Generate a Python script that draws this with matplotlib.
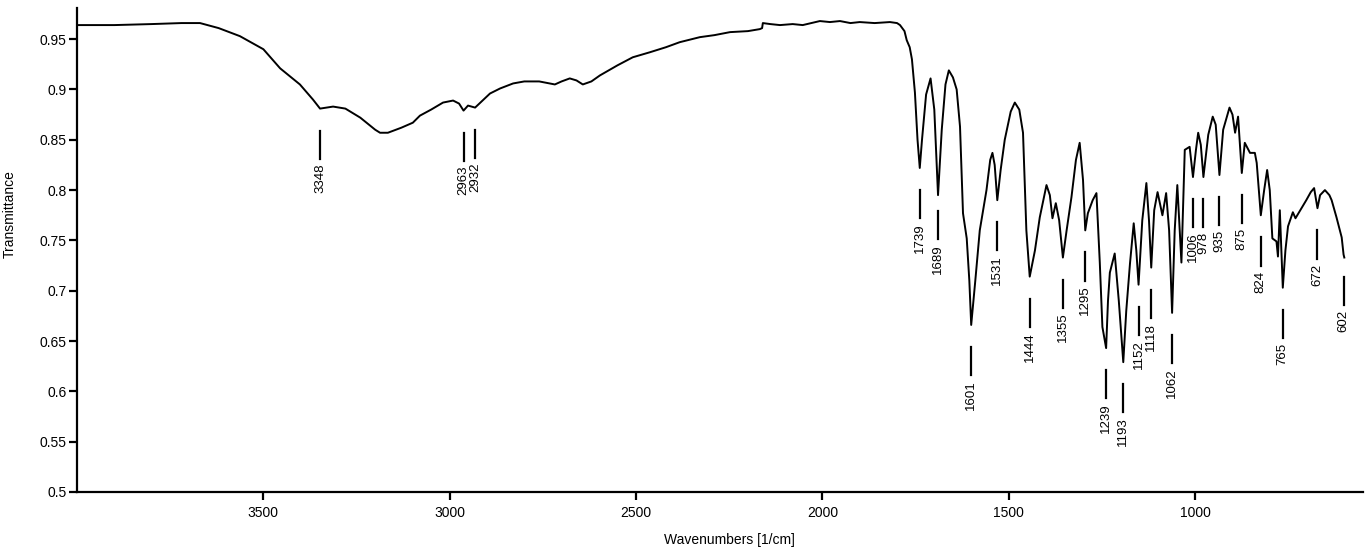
import numpy as np
import matplotlib
matplotlib.use("Agg")
import matplotlib.pyplot as plt
from matplotlib.ticker import FuncFormatter

plt.rcParams['font.family'] = ['Liberation Sans', 'DejaVu Sans']

## SPECTRUM DATA
wavenumber = [4000, 3900, 3800, 3720, 3670, 3620, 3563, 3500, 3455, 3402, 3367, 3348,
              3330, 3313, 3280, 3240, 3200, 3187, 3166, 3130, 3099, 3080, 3050, 3018,
              2991, 2975, 2963, 2951, 2932, 2915, 2892, 2865, 2830, 2800, 2760, 2718,
              2700, 2678, 2660, 2643, 2620, 2597, 2550, 2509, 2463, 2420, 2383, 2329,
              2290, 2248, 2200, 2168, 2162, 2160, 2140, 2114, 2080, 2053, 2030, 2007,
              1980, 1953, 1925, 1900, 1860, 1819, 1800, 1792, 1780, 1774, 1766, 1760,
              1752, 1745, 1739, 1733, 1722, 1710, 1700, 1690, 1680, 1670, 1661, 1650,
              1640, 1631, 1623, 1613, 1606, 1601, 1590, 1578, 1560, 1550, 1544, 1538,
              1531, 1522, 1511, 1495, 1484, 1472, 1462, 1453, 1444, 1430, 1417, 1399,
              1390, 1383, 1374, 1365, 1355, 1345, 1332, 1320, 1310, 1301, 1295, 1288,
              1275, 1265, 1256, 1249, 1239, 1234, 1229, 1216, 1205, 1193, 1185, 1175,
              1165, 1158, 1152, 1142, 1131, 1124, 1118, 1110, 1101, 1088, 1078, 1070,
              1062, 1055, 1048, 1037, 1028, 1015, 1006, 998, 992, 985, 978, 965,
              953, 945, 935, 925, 908, 900, 893, 885, 875, 867, 853, 840,
              835, 824, 815, 807, 800, 793, 782, 778, 773, 765, 758, 751,
              738, 731, 715, 702, 690, 681, 672, 665, 652, 640, 634, 621,
              607, 602, 600]
transmittance = [0.964, 0.964, 0.965, 0.966, 0.966, 0.961, 0.953, 0.940, 0.921, 0.905, 0.890, 0.881,
                 0.882, 0.883, 0.881, 0.872, 0.860, 0.857, 0.857, 0.862, 0.867, 0.874, 0.880, 0.887,
                 0.889, 0.886, 0.879, 0.884, 0.882, 0.888, 0.896, 0.901, 0.906, 0.908, 0.908, 0.905,
                 0.908, 0.911, 0.909, 0.905, 0.908, 0.914, 0.924, 0.932, 0.937, 0.942, 0.947, 0.952,
                 0.954, 0.957, 0.958, 0.960, 0.961, 0.966, 0.965, 0.964, 0.965, 0.964, 0.966, 0.968,
                 0.967, 0.968, 0.966, 0.967, 0.966, 0.967, 0.966, 0.964, 0.958, 0.949, 0.942, 0.930,
                 0.897, 0.850, 0.822, 0.850, 0.895, 0.911, 0.880, 0.795, 0.860, 0.905, 0.919, 0.912,
                 0.900, 0.863, 0.777, 0.752, 0.710, 0.666, 0.710, 0.760, 0.800, 0.830, 0.837, 0.825,
                 0.790, 0.820, 0.850, 0.878, 0.887, 0.880, 0.857, 0.760, 0.714, 0.740, 0.773, 0.805,
                 0.795, 0.772, 0.787, 0.770, 0.733, 0.760, 0.793, 0.830, 0.847, 0.810, 0.760, 0.777,
                 0.790, 0.797, 0.728, 0.664, 0.643, 0.690, 0.718, 0.737, 0.690, 0.629, 0.680, 0.727,
                 0.767, 0.740, 0.706, 0.770, 0.807, 0.770, 0.723, 0.780, 0.798, 0.775, 0.797, 0.760,
                 0.678, 0.760, 0.805, 0.728, 0.840, 0.843, 0.813, 0.840, 0.857, 0.845, 0.813, 0.855,
                 0.873, 0.865, 0.815, 0.860, 0.882, 0.875, 0.857, 0.873, 0.817, 0.847, 0.837, 0.837,
                 0.827, 0.775, 0.800, 0.820, 0.800, 0.752, 0.749, 0.734, 0.780, 0.703, 0.740, 0.764,
                 0.778, 0.772, 0.782, 0.790, 0.798, 0.802, 0.782, 0.795, 0.800, 0.795, 0.790, 0.773,
                 0.753, 0.736, 0.733]

## PEAK LABELS
peaks = [3348, 2963, 2932, 1739, 1689, 1601, 1531, 1444, 1355, 1295, 1239, 1193,
         1152, 1118, 1062, 1006, 978, 935, 875, 824, 765, 672, 602]

wn = np.array(wavenumber)
tr = np.array(transmittance)
peak_t = np.interp(peaks, wn[::-1], tr[::-1])

fig = plt.figure(figsize=(13.68, 5.5), dpi=100)
ax = fig.add_axes([0.0563, 0.1055, 0.94, 0.88])

ax.plot(wn, tr, color='black', lw=1.4)

# marker line + rotated number under each peak
for p, t in zip(peaks, peak_t):
    ax.plot([p, p], [t - 0.022, t - 0.050], color='black', lw=1.6)
    ax.text(p, t - 0.055, str(p), rotation=90, ha='center', va='top',
            fontsize=9.5, bbox=dict(fc='white', ec='none', pad=0))

ax.set_xlim(4000, 550)
ax.set_ylim(0.5, 0.981)
ax.set_xticks([3500, 3000, 2500, 2000, 1500, 1000])
ax.set_yticks(np.arange(0.5, 0.951, 0.05))
ax.yaxis.set_major_formatter(FuncFormatter(lambda v, pos: '%g' % round(v, 2)))

for s in ['top', 'right']:
    ax.spines[s].set_visible(False)
for s in ['left', 'bottom']:
    ax.spines[s].set_linewidth(1.6)
ax.tick_params(axis='both', width=1.6, length=6, labelsize=10)
ax.tick_params(axis='y', pad=1.5)
ax.tick_params(axis='x', pad=4)

ax.set_xlabel("Wavenumbers [1/cm]", fontsize=10)
ax.set_ylabel("Transmittance", fontsize=10)
ax.yaxis.set_label_coords(-0.047, 0.574)
ax.xaxis.set_label_coords(0.507, -0.085)

fig.savefig("out.png", dpi=100)
